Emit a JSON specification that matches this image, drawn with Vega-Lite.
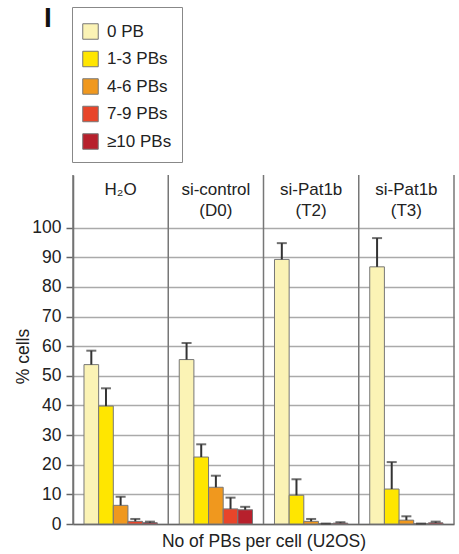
{
  "$schema": "https://vega.github.io/schema/vega-lite/v6.json",
  "width": 381,
  "height": 349,
  "autosize": {"type": "none"},
  "padding": {"left": 73, "top": 175, "right": 5, "bottom": 30},
  "background": "white",
  "config": {
    "font": "Liberation Sans",
    "view": {"stroke": null},
    "axisY": {"grid": true, "gridColor": "#aaa", "gridWidth": 1.5, "labelOverlap": false,
              "domainColor": "#666", "domainWidth": 1.5, "tickColor": "#666", "tickWidth": 1.5, "tickSize": 7,
              "labelFontSize": 17.5, "labelColor": "#222", "labelPadding": 5,
              "titleFontSize": 17.5, "titleFontWeight": "normal", "titleColor": "#222",
              "titleX": -50, "titleY": 181, "titleAngle": -90, "titleAlign": "center", "titleBaseline": "middle"}
  },
  "title": {"text": "I", "anchor": "start", "frame": "group", "fontSize": 28, "fontWeight": "bold", "color": "#111", "dx": -29, "dy": 30},
  "datasets": {
    "bars": [
      {"cond": "H2O", "pb": "0 PB", "pct": 53.8, "err": 58.5},
      {"cond": "H2O", "pb": "1-3 PBs", "pct": 39.8, "err": 45.8},
      {"cond": "H2O", "pb": "4-6 PBs", "pct": 6.3, "err": 9.2},
      {"cond": "H2O", "pb": "7-9 PBs", "pct": 0.9, "err": 1.7},
      {"cond": "H2O", "pb": "≥10 PBs", "pct": 0.45, "err": 0.8},
      {"cond": "D0", "pb": "0 PB", "pct": 55.5, "err": 61.1},
      {"cond": "D0", "pb": "1-3 PBs", "pct": 22.6, "err": 26.9},
      {"cond": "D0", "pb": "4-6 PBs", "pct": 12.4, "err": 16.3},
      {"cond": "D0", "pb": "7-9 PBs", "pct": 5.1, "err": 8.9},
      {"cond": "D0", "pb": "≥10 PBs", "pct": 4.8, "err": 5.8},
      {"cond": "T2", "pb": "0 PB", "pct": 89.3, "err": 94.8},
      {"cond": "T2", "pb": "1-3 PBs", "pct": 9.7, "err": 15.1},
      {"cond": "T2", "pb": "4-6 PBs", "pct": 0.9, "err": 1.7},
      {"cond": "T2", "pb": "7-9 PBs", "pct": 0.1, "err": 0.15},
      {"cond": "T2", "pb": "≥10 PBs", "pct": 0.3, "err": 0.6},
      {"cond": "T3", "pb": "0 PB", "pct": 86.8, "err": 96.5},
      {"cond": "T3", "pb": "1-3 PBs", "pct": 11.8, "err": 20.9},
      {"cond": "T3", "pb": "4-6 PBs", "pct": 1.3, "err": 2.6},
      {"cond": "T3", "pb": "7-9 PBs", "pct": 0.1, "err": 0.15},
      {"cond": "T3", "pb": "≥10 PBs", "pct": 0.4, "err": 0.8}
    ],
    "heads": [
      {"cond": "H2O", "label": "H₂O"},
      {"cond": "D0", "label": "si-control\n(D0)"},
      {"cond": "T2", "label": "si-Pat1b\n(T2)"},
      {"cond": "T3", "label": "si-Pat1b\n(T3)"}
    ]
  },
  "encoding": {
    "x": {
      "field": "cond", "type": "nominal", "sort": ["H2O", "D0", "T2", "T3"],
      "scale": {"paddingInner": 0, "paddingOuter": 0},
      "axis": {"labels": false, "ticks": false, "domain": true, "domainColor": "#666", "domainWidth": 1.5,
               "title": "No of PBs per cell (U2OS)", "titleFontSize": 17.5, "titleFontWeight": "normal", "titleColor": "#222", "titlePadding": 8}
    }
  },
  "layer": [
    {
      "data": {"name": "bars"},
      "mark": {"type": "bar", "stroke": "#777", "strokeWidth": 1},
      "encoding": {
        "xOffset": {
          "field": "pb", "type": "nominal", "sort": ["0 PB", "1-3 PBs", "4-6 PBs", "7-9 PBs", "≥10 PBs"],
          "scale": {"paddingInner": 0, "paddingOuter": 0.75}
        },
        "y": {
          "field": "pct", "type": "quantitative",
          "scale": {"domain": [0, 117.8], "nice": false},
          "axis": {"values": [0, 10, 20, 30, 40, 50, 60, 70, 80, 90, 100], "title": "% cells"}
        },
        "fill": {
          "field": "pb", "type": "nominal",
          "scale": {"domain": ["0 PB", "1-3 PBs", "4-6 PBs", "7-9 PBs", "≥10 PBs"],
                    "range": ["#FBF3B5", "#FFE600", "#F0981E", "#E8452A", "#B7202C"]},
          "legend": {"orient": "none", "legendX": -1, "legendY": -168, "title": " ", "titleFontSize": 2, "titlePadding": 4,
                     "symbolType": "square", "symbolSize": 240, "symbolStrokeColor": "#777", "symbolStrokeWidth": 1,
                     "labelFontSize": 17, "labelColor": "#222", "labelOffset": 8, "rowPadding": 6.5,
                     "padding": 10, "strokeColor": "#888", "fillColor": "white"}
        }
      }
    },
    {
      "data": {"name": "bars"},
      "mark": {"type": "rule", "color": "#333", "strokeWidth": 2},
      "encoding": {
        "xOffset": {"field": "pb", "type": "nominal", "sort": ["0 PB", "1-3 PBs", "4-6 PBs", "7-9 PBs", "≥10 PBs"]},
        "y": {"field": "pct", "type": "quantitative", "axis": {"values": [0, 10, 20, 30, 40, 50, 60, 70, 80, 90, 100], "title": "% cells"}},
        "y2": {"field": "err"}
      }
    },
    {
      "data": {"name": "bars"},
      "mark": {"type": "tick", "color": "#333", "thickness": 2, "size": 10},
      "encoding": {
        "xOffset": {"field": "pb", "type": "nominal", "sort": ["0 PB", "1-3 PBs", "4-6 PBs", "7-9 PBs", "≥10 PBs"]},
        "y": {"field": "err", "type": "quantitative", "axis": {"values": [0, 10, 20, 30, 40, 50, 60, 70, 80, 90, 100], "title": "% cells"}}
      }
    },
    {
      "data": {"name": "heads"},
      "mark": {"type": "rule", "color": "#777", "strokeWidth": 1.5},
      "encoding": {
        "x": {"field": "cond", "type": "nominal", "sort": ["H2O", "D0", "T2", "T3"], "bandPosition": 0},
        "y": {"datum": 0, "type": "quantitative", "axis": {"values": [0, 10, 20, 30, 40, 50, 60, 70, 80, 90, 100], "title": "% cells"}},
        "y2": {"datum": 117.8}
      }
    },
    {
      "data": {"name": "heads"},
      "transform": [{"filter": "datum.cond === 'T3'"}],
      "mark": {"type": "rule", "color": "#777", "strokeWidth": 1.5},
      "encoding": {
        "x": {"field": "cond", "type": "nominal", "sort": ["H2O", "D0", "T2", "T3"], "bandPosition": 1},
        "y": {"datum": 0, "type": "quantitative", "axis": {"values": [0, 10, 20, 30, 40, 50, 60, 70, 80, 90, 100], "title": "% cells"}},
        "y2": {"datum": 117.8}
      }
    },
    {
      "data": {"name": "heads"},
      "mark": {"type": "text", "lineBreak": "\n", "fontSize": 17, "baseline": "alphabetic", "lineHeight": 21, "color": "#222"},
      "encoding": {
        "y": {"datum": 111, "type": "quantitative", "axis": {"values": [0, 10, 20, 30, 40, 50, 60, 70, 80, 90, 100], "title": "% cells"}},
        "text": {"field": "label"}
      }
    }
  ]
}
